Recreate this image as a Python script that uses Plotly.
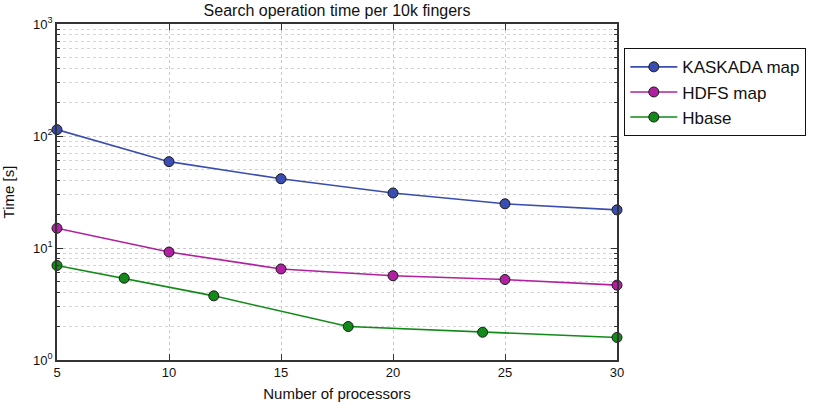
import plotly.graph_objects as go

title = "Search operation time per 10k fingers"
x_label = "Number of processors"
y_label = "Time [s]"

kaskada_x = [5, 10, 15, 20, 25, 30]
kaskada_y = [114, 59, 41.5, 31, 24.8, 21.9]

hdfs_x = [5, 10, 15, 20, 25, 30]
hdfs_y = [15.0, 9.2, 6.5, 5.65, 5.23, 4.66]

hbase_x = [5, 8, 12, 18, 24, 30]
hbase_y = [6.98, 5.37, 3.74, 1.99, 1.77, 1.59]

series_names = ["KASKADA map", "HDFS map", "Hbase"]
colors = ["#3a4db0", "#b0209f", "#118a18"]

x_ticks = [5, 10, 15, 20, 25, 30]
y_tickvals = [1, 10, 100, 1000]
y_ticktext = ["10<sup>0</sup>", "10<sup>1</sup>", "10<sup>2</sup>", "10<sup>3</sup>"]
y_minor = [d * m for d in y_tickvals[:-1] for m in range(2, 10)]

fig = go.Figure()
for name, xs, ys, c in zip(series_names, [kaskada_x, hdfs_x, hbase_x],
                           [kaskada_y, hdfs_y, hbase_y], colors):
    fig.add_trace(go.Scatter(
        x=xs, y=ys, name=name, legendgroup=name, mode="lines+markers",
        line=dict(color=c, width=1.6),
        marker=dict(color=c, size=10, line=dict(color="#1a1a1a", width=1)),
        cliponaxis=False,
    ))

axis_common = dict(
    showline=True, linecolor="#333333", linewidth=1.6, mirror="ticks",
    ticks="inside", tickcolor="#333333", ticklen=6,
    gridcolor="#c8c8c8", griddash="dot", gridwidth=1,
    tickfont=dict(family="Liberation Sans, Arial, sans-serif", size=13, color="#111"),
    zeroline=False, automargin=False,
)

W, H = 814, 406
L, T, PW, PH = 57, 24, 560, 336

fig.update_layout(
    width=W, height=H,
    margin=dict(l=L, r=W - L - PW, t=T, b=H - T - PH, autoexpand=False),
    paper_bgcolor="white", plot_bgcolor="white",
    font=dict(family="Liberation Sans, Arial, sans-serif", color="#111"),
    title=dict(text=title, x=(L + PW / 2) / W, xanchor="center",
               y=1 - 10 / H, yanchor="middle", font=dict(size=16, color="#111")),
    xaxis=dict(range=[5, 30], tickvals=x_ticks,
               title=dict(text=x_label, font=dict(size=15), standoff=9),
               **axis_common),
    yaxis=dict(type="log", range=[0, 3], tickvals=y_tickvals, ticktext=y_ticktext,
               title=dict(text=y_label, font=dict(size=15), standoff=21),
               minor=dict(tickvals=y_minor, ticks="inside", ticklen=3, tickcolor="#333333",
                          showgrid=True, gridcolor="#d4d4d4", griddash="dot"),
               **axis_common),
    legend=dict(x=(624 - L) / PW, xanchor="left", y=1 - (48 - T) / PH, yanchor="top",
                bordercolor="#111", borderwidth=1.3, bgcolor="white",
                font=dict(size=17, color="#111"), tracegroupgap=0,
                traceorder="grouped", itemwidth=47),
    showlegend=True,
)

fig.write_html("out.html", config={"displayModeBar": False},
               post_script="document.body.style.margin='0';")
